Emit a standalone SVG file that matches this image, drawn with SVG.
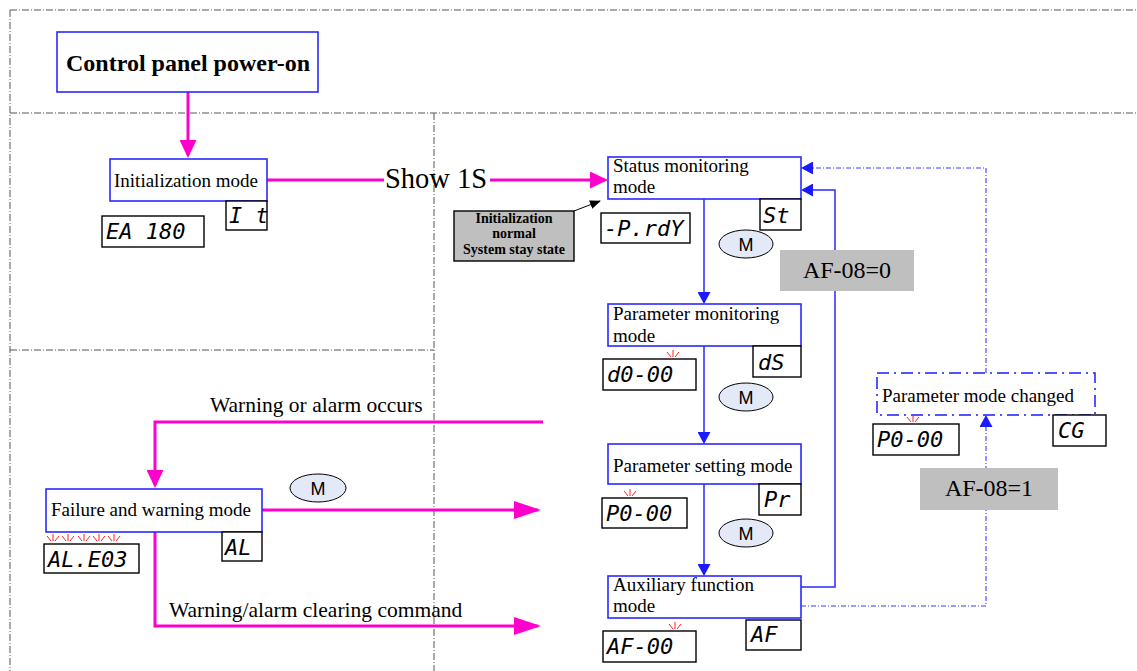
<svg xmlns="http://www.w3.org/2000/svg" width="1137" height="671" viewBox="0 0 1137 671">
<style>
.frame{fill:none;stroke:#555;stroke-width:1;stroke-dasharray:7,2,1,2}
.box{fill:#fff;stroke:#2a2aff;stroke-width:1.6}
.seg{fill:#fff;stroke:#000;stroke-width:1.4}
.segt{font-family:"DejaVu Sans Mono","Liberation Mono",monospace;font-style:oblique;font-size:22px;fill:#000}
.lbl{font-family:"Liberation Serif","Times New Roman",serif;font-size:19px;fill:#000}
.big{font-family:"Liberation Serif","Times New Roman",serif;fill:#000}
.mag{fill:none;stroke:#ff00cc;stroke-width:3}
.blu{fill:none;stroke:#2a2aff;stroke-width:1.5}
.bdd{fill:none;stroke:#3b3bff;stroke-width:1.1;stroke-dasharray:5,2,1,2}
.ell{fill:#e3e9f6;stroke:#000;stroke-width:1}
.mt{font-family:"Liberation Sans",Arial,sans-serif;font-size:18px;fill:#000;text-anchor:middle}
.gray{fill:#bfbfbf}
.blink line{stroke:#ff2020;stroke-width:1}
</style>
<defs>
<marker id="am" markerUnits="userSpaceOnUse" markerWidth="18" markerHeight="17" refX="15" refY="8.5" orient="auto"><path d="M0,0 L18,8.5 L0,17 z" fill="#ff00cc"/></marker>
<marker id="aml" markerUnits="userSpaceOnUse" markerWidth="27" markerHeight="18" refX="24" refY="9" orient="auto"><path d="M0,0 L27,9 L0,18 z" fill="#ff00cc"/></marker>
<marker id="ab" markerUnits="userSpaceOnUse" markerWidth="12" markerHeight="13" refX="10" refY="6.5" orient="auto"><path d="M0,0 L12,6.5 L0,13 z" fill="#1a1aff"/></marker>
<marker id="ak" markerUnits="userSpaceOnUse" markerWidth="11" markerHeight="9" refX="10" refY="4.5" orient="auto"><path d="M0,0 L11,4.5 L0,9 z" fill="#000"/></marker>
<g id="blink" class="blink"><line x1="0" y1="-8" x2="0" y2="-1"/><line x1="-6" y1="-6" x2="-2" y2="-1"/><line x1="6" y1="-6" x2="2" y2="-1"/></g>
</defs>
<rect width="1137" height="671" fill="#fff"/>
<g id="frame">
<path class="frame" d="M10,10 H1137 M10,10 V671 M10,113 H1137 M434,113 V671 M10,350 H434"/>
</g>
<g id="connectors">
<path class="mag" d="M188,92 V155" marker-end="url(#am)"/>
<path class="mag" d="M267,180 H384"/>
<path class="mag" d="M490,180 H605" marker-end="url(#am)"/>
<path d="M574,211 L600,201" stroke="#000" stroke-width="1" fill="none" marker-end="url(#ak)"/>
<path class="blu" d="M704,199 V302" marker-end="url(#ab)"/>
<path class="blu" d="M704,346 V442" marker-end="url(#ab)"/>
<path class="blu" d="M704,484 V574" marker-end="url(#ab)"/>
<path class="blu" d="M801,587 H835 V190 H803" marker-end="url(#ab)"/>
<path class="bdd" d="M801,606 H986 V417" marker-end="url(#ab)"/>
<path class="bdd" d="M986,373 V168 H803" marker-end="url(#ab)"/>
<path class="mag" d="M543,422 H155 V485" marker-end="url(#am)"/>
<path class="mag" d="M262,510 H538" marker-end="url(#aml)"/>
<path class="mag" d="M155,532 V626 H538" marker-end="url(#aml)"/>
<text class="big" x="385" y="188" font-size="28.5">Show 1S</text>
<text class="big" x="210" y="412" font-size="21.5">Warning or alarm occurs</text>
<text class="big" x="169" y="617" font-size="21.5">Warning/alarm clearing command</text>
</g>
<g id="power-on">
<rect class="box" x="57" y="32" width="261" height="60"/>
<text class="big" x="188" y="71" font-size="24" font-weight="bold" text-anchor="middle">Control panel power-on</text>
</g>
<g id="init-mode">
<rect class="box" x="110" y="159" width="157" height="42"/>
<text class="lbl" x="114" y="187">Initialization mode</text>
<rect class="seg" x="226" y="201" width="41" height="29"/>
<text class="segt" x="229" y="223">I t</text>
<rect class="seg" x="102" y="216" width="102" height="31"/>
<text class="segt" x="106" y="239">EA 180</text>
</g>
<g id="init-note">
<rect x="454" y="211" width="120" height="50" fill="#bfbfbf" stroke="#000" stroke-width="1.4"/>
<text class="big" font-size="14" font-weight="bold" text-anchor="middle"><tspan x="514" y="223">Initialization</tspan><tspan x="514" y="238">normal</tspan><tspan x="514" y="254">System stay state</tspan></text>
</g>
<g id="status-mode">
<rect class="box" x="608" y="157" width="193" height="42"/>
<text class="lbl"><tspan x="613" y="172">Status monitoring</tspan><tspan x="613" y="193">mode</tspan></text>
<rect class="seg" x="760" y="199" width="41" height="31"/>
<text class="segt" x="763" y="223">St</text>
<rect class="seg" x="601" y="213" width="89" height="30"/>
<text class="segt" x="604" y="236">-P.rdY</text>
<ellipse class="ell" cx="746" cy="244" rx="27" ry="14"/>
<text class="mt" x="746" y="250.5">M</text>
</g>
<g id="param-monitor-mode">
<rect class="box" x="608" y="304" width="193" height="42"/>
<text class="lbl"><tspan x="613" y="320">Parameter monitoring</tspan><tspan x="613" y="342">mode</tspan></text>
<rect class="seg" x="753" y="346" width="48" height="31"/>
<text class="segt" x="758" y="370">dS</text>
<rect class="seg" x="603" y="359" width="93" height="31"/>
<text class="segt" x="607" y="382">d0-00</text>
<use href="#blink" x="673" y="358"/>
<ellipse class="ell" cx="746" cy="397" rx="27" ry="14"/>
<text class="mt" x="746" y="403.5">M</text>
</g>
<g id="param-setting-mode">
<rect class="box" x="608" y="444" width="193" height="40"/>
<text class="lbl" x="613" y="472">Parameter setting mode</text>
<rect class="seg" x="759" y="484" width="42" height="31"/>
<text class="segt" x="764" y="507">Pr</text>
<rect class="seg" x="602" y="498" width="85" height="30"/>
<text class="segt" x="606" y="521">P0-00</text>
<use href="#blink" x="630" y="497"/>
<ellipse class="ell" cx="746" cy="533" rx="27" ry="14"/>
<text class="mt" x="746" y="539.5">M</text>
</g>
<g id="aux-mode">
<rect class="box" x="608" y="576" width="193" height="42"/>
<text class="lbl"><tspan x="613" y="591">Auxiliary function</tspan><tspan x="613" y="612">mode</tspan></text>
<rect class="seg" x="746" y="620" width="55" height="30"/>
<text class="segt" x="751" y="642">AF</text>
<rect class="seg" x="603" y="631" width="93" height="31"/>
<text class="segt" x="607" y="654">AF-00</text>
<use href="#blink" x="675" y="630"/>
</g>
<g id="af08-0">
<rect class="gray" x="780" y="250" width="134" height="41"/>
<text class="big" x="847" y="278" font-size="24" text-anchor="middle">AF-08=0</text>
</g>
<g id="af08-1">
<rect class="gray" x="920" y="468" width="138" height="42"/>
<text class="big" x="989" y="496" font-size="24" text-anchor="middle">AF-08=1</text>
</g>
<g id="param-mode-changed">
<rect x="877" y="373" width="218" height="42" fill="#fff" stroke="#1a1aff" stroke-width="1.5" stroke-dasharray="12,5,2,5"/>
<text class="lbl" x="882" y="402">Parameter mode changed</text>
<rect class="seg" x="873" y="424" width="86" height="31"/>
<text class="segt" x="877" y="447">P0-00</text>
<use href="#blink" x="913" y="423"/>
<rect class="seg" x="1053" y="415" width="53" height="31"/>
<text class="segt" x="1058" y="438">CG</text>
</g>
<g id="failure-mode">
<rect class="box" x="46" y="489" width="216" height="43"/>
<text class="lbl" x="51" y="516">Failure and warning mode</text>
<rect class="seg" x="222" y="532" width="40" height="29"/>
<text class="segt" x="225" y="555">AL</text>
<rect class="seg" x="44" y="544" width="95" height="29"/>
<text class="segt" x="48" y="567">AL.E03</text>
<use href="#blink" x="53" y="542"/>
<use href="#blink" x="68" y="542"/>
<use href="#blink" x="84" y="542"/>
<use href="#blink" x="99" y="542"/>
<use href="#blink" x="114" y="542"/>
<ellipse class="ell" cx="318" cy="488" rx="28" ry="14"/>
<text class="mt" x="318" y="494.5">M</text>
</g>
</svg>
